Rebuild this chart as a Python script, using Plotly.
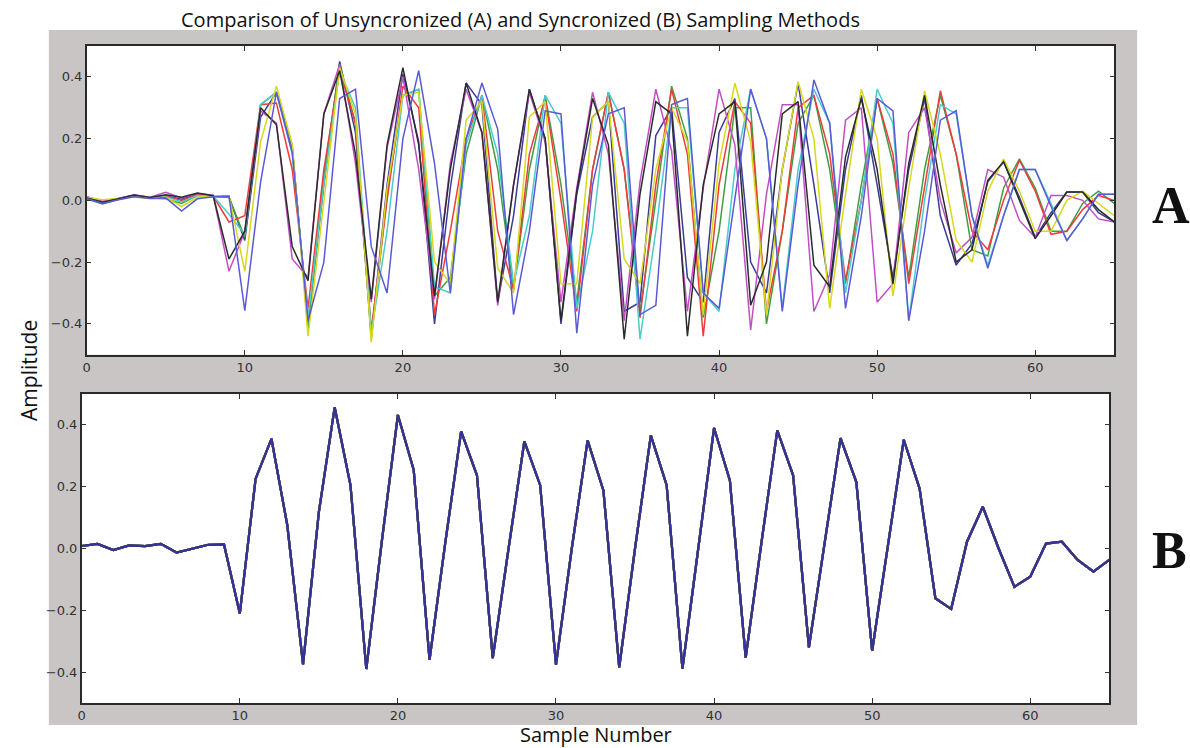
import plotly.graph_objects as go

# Sample index shared by every trace
samples = list(range(66))

# --- Panel A: unsynchronized captures (one list per capture) ---
a_navy = [0.006, -0.008, 0.004, 0.015, 0.008, 0.014, 0.004, 0.021, 0.014,
          0.01, -0.13, 0.27,
          0.35, 0.17, -0.40, 0.05, 0.45, 0.22, -0.44, 0.05, 0.41, 0.19, -0.40, 0.04,
          0.38, 0.31, -0.33, -0.05, 0.36, 0.20, -0.40, 0.02, 0.27, 0.32, -0.36, -0.33,
          0.21, 0.30, -0.25, -0.33, 0.22, 0.33, -0.20, -0.30, 0.10, 0.38, 0.05, -0.30,
          0.10, 0.34, 0.05, -0.25, 0.10, 0.33,
          -0.05, -0.21, -0.14, 0.06, 0.125, 0.01, -0.12, -0.04, 0.027, 0.027, -0.04, -0.07]

a_green = [0.004, -0.012, 0.003, 0.014, 0.007, 0.005, -0.010, 0.016, 0.012,
           0.01, -0.12, 0.31,
           0.35, 0.18, -0.42, 0.08, 0.44, 0.25, -0.45, 0.02, 0.34, 0.36, -0.31, -0.25,
           0.15, 0.34, 0.10, -0.29, 0.10, 0.34, 0.05, -0.33, 0.10, 0.35, 0.10, -0.36,
           0.00, 0.37, 0.20, -0.38, -0.10, 0.30, 0.30, -0.40, -0.10, 0.25, 0.34, 0.10,
           -0.27, 0.05, 0.33, 0.12, -0.25, 0.10,
           0.34, 0.15, -0.16, -0.18, 0.04, 0.134, 0.04, -0.10, -0.10, -0.01, 0.03, -0.01]

a_red = [0.012, -0.004, 0.006, 0.016, 0.008, 0.014, 0.000, 0.018, 0.014,
         -0.07, -0.05, 0.31,
         0.315, 0.10, -0.35, 0.10, 0.42, 0.25, -0.42, 0.00, 0.37, 0.30, -0.37, -0.10,
         0.20, 0.34, -0.10, -0.29, 0.15, 0.33, 0.00, -0.36, 0.10, 0.35, 0.10, -0.38,
         0.05, 0.36, 0.15, -0.44, 0.05, 0.32, 0.25, -0.36, -0.10, 0.30, 0.34, 0.15,
         -0.26, 0.00, 0.33, 0.15, -0.27, 0.05,
         0.355, 0.15, -0.10, -0.16, 0.0, 0.13, 0.03, -0.11, -0.10, -0.03, 0.016, 0.0]

a_cyan = [0.008, -0.006, 0.004, 0.015, 0.007, 0.012, -0.005, 0.016, 0.014,
          -0.045, -0.11, 0.31,
          0.35, 0.15, -0.38, 0.05, 0.42, 0.30, -0.43, -0.10, 0.34, 0.36, -0.28, -0.30,
          0.18, 0.34, 0.15, -0.27, -0.05, 0.34, 0.25, -0.35, -0.10, 0.35, 0.25, -0.45,
          -0.10, 0.30, 0.30, -0.30, -0.36, 0.10, 0.36, 0.20, -0.35, 0.10, 0.36, 0.25,
          -0.30, 0.00, 0.36, 0.25, -0.39, 0.00,
          0.31, 0.28, -0.05, -0.21, -0.05, 0.10, 0.10, -0.01, -0.13, -0.06, 0.02, 0.02]

a_magenta = [0.012, -0.004, 0.006, 0.018, 0.010, 0.026, 0.008, 0.022, 0.017,
             -0.23, -0.10, 0.29,
             0.25, -0.19, -0.25, 0.28, 0.44, 0.12, -0.33, 0.17, 0.40, 0.10, -0.32, 0.12,
             0.36, 0.22, -0.34, 0.05, 0.35, 0.19, -0.33, 0.04, 0.35, 0.15, -0.39, 0.06,
             0.36, 0.16, -0.36, 0.04, 0.36, 0.18, -0.42, 0.02, 0.31, 0.31, -0.36, -0.24,
             0.26, 0.30, -0.33, -0.27, 0.22, 0.30,
             0.00, -0.17, -0.12, 0.10, 0.075, -0.065, -0.12, 0.016, 0.016, 0.0, -0.06, -0.07]

a_yellow = [0.010, 0.002, 0.006, 0.012, 0.006, 0.010, -0.020, 0.010, 0.015,
            0.015, -0.23, 0.19,
            0.37, 0.18, -0.44, 0.00, 0.43, 0.28, -0.46, 0.04, 0.34, 0.35, -0.20, -0.27,
            0.26, 0.32, -0.22, -0.30, 0.27, 0.32, -0.27, -0.27, 0.27, 0.32, -0.19, -0.27,
            0.10, 0.30, 0.19, -0.37, 0.12, 0.38, 0.19, -0.37, 0.10, 0.385, 0.20, -0.35,
            0.02, 0.36, 0.20, -0.31, 0.04, 0.355,
            0.15, -0.13, -0.20, 0.03, 0.134, 0.03, -0.10, -0.10, 0.0, 0.03, -0.01, -0.05]

a_black = [0.008, -0.006, 0.005, 0.017, 0.009, 0.018, 0.010, 0.024, 0.015,
           -0.19, -0.10, 0.30,
           0.245, -0.15, -0.26, 0.28, 0.42, 0.15, -0.32, 0.18, 0.43, 0.18, -0.31, 0.10,
           0.38, 0.22, -0.33, 0.05, 0.36, 0.20, -0.39, 0.03, 0.33, 0.18, -0.45, 0.02,
           0.32, 0.28, -0.44, 0.05, 0.28, 0.32, -0.34, -0.20, 0.28, 0.32, -0.21, -0.28,
           0.14, 0.33, 0.10, -0.27, 0.12, 0.34,
           0.05, -0.20, -0.16, 0.065, 0.125, 0.0, -0.124, -0.05, 0.027, 0.027, -0.03, -0.07]

a_blue = [0.006, -0.010, 0.002, 0.012, 0.006, 0.008, -0.035, 0.005, 0.012,
          0.014, -0.357, 0.06,
          0.35, 0.155, -0.39, -0.20, 0.33, 0.36, -0.15, -0.30, 0.20, 0.42, 0.12, -0.30,
          0.20, 0.38, 0.23, -0.37, -0.10, 0.29, 0.28, -0.43, 0.05, 0.28, 0.30, -0.37,
          -0.34, 0.31, 0.33, -0.30, -0.35, 0.00, 0.36, 0.20, -0.36, 0.05, 0.39, 0.25,
          -0.35, -0.05, 0.33, 0.29, -0.39, -0.10,
          0.26, 0.29, -0.05, -0.22, -0.05, 0.10, 0.10, -0.02, -0.13, -0.06, 0.02, 0.02]

# --- Panel B: synchronized captures (all captures coincide) ---
b_synced = [0.008, 0.015, -0.005, 0.010, 0.008, 0.015, -0.013, 0.0, 0.012, 0.013,
            -0.21, 0.226, 0.355, 0.076, -0.375, 0.118, 0.457, 0.205, -0.39, 0.03,
            0.432, 0.254, -0.36, 0.02, 0.379, 0.237, -0.355, 0.0, 0.347, 0.205,
            -0.376, 0.0, 0.35, 0.188, -0.385, 0.0, 0.366, 0.205, -0.389, 0.0,
            0.39, 0.22, -0.353, 0.02, 0.382, 0.237, -0.32, 0.02, 0.357, 0.215,
            -0.331, 0.01, 0.352, 0.194, -0.161, -0.196, 0.022, 0.135, 0.0, -0.124,
            -0.091, 0.016, 0.022, -0.037, -0.075, -0.037]

series_a = [
    (a_navy, "#3b3b9a"),
    (a_green, "#3f9f3f"),
    (a_red, "#ef3b3b"),
    (a_cyan, "#48cccc"),
    (a_magenta, "#c24ec6"),
    (a_yellow, "#d8d81c"),
    (a_black, "#2b2b2b"),
    (a_blue, "#5a5ad6"),
]
series_b_colors = ["#5a5ad6", "#3f9f3f", "#ef3b3b", "#48cccc",
                   "#c24ec6", "#d8d81c", "#2b2b2b", "#33339a"]

W, H = 1190, 748

fig = go.Figure()
for vals, col in series_a:
    fig.add_trace(go.Scatter(x=samples, y=vals, mode="lines", xaxis="x", yaxis="y",
                             line=dict(color=col, width=1.5), showlegend=False,
                             hoverinfo="skip"))
for col in series_b_colors:
    fig.add_trace(go.Scatter(x=samples, y=b_synced, mode="lines", xaxis="x2", yaxis="y2",
                             line=dict(color=col, width=2.2), showlegend=False,
                             hoverinfo="skip"))

tick_font = dict(family="DejaVu Sans", size=13, color="#333333")
common_x = dict(range=[0, 65], tickvals=[0, 10, 20, 30, 40, 50, 60], ticks="inside",
                ticklen=5, tickcolor="#333333", showline=True, linecolor="#2a2a2a",
                linewidth=1.5, mirror="ticks", showgrid=False, zeroline=False,
                tickfont=tick_font)
common_y = dict(range=[-0.5, 0.5], tickvals=[-0.4, -0.2, 0.0, 0.2, 0.4], tickformat=".1f",
                ticks="inside", ticklen=5, tickcolor="#333333", showline=True,
                linecolor="#2a2a2a", linewidth=1.5, mirror="ticks", showgrid=False,
                zeroline=False, tickfont=tick_font)

fig.update_layout(
    width=W, height=H,
    margin=dict(l=0, r=0, t=0, b=0),
    paper_bgcolor="white",
    plot_bgcolor="white",
    xaxis=dict(domain=[83 / W, 1114 / W], anchor="y", **common_x),
    yaxis=dict(domain=[1 - 354.7 / H, 1 - 46 / H], anchor="x", **common_y),
    xaxis2=dict(domain=[78 / W, 1109 / W], anchor="y2", **common_x),
    yaxis2=dict(domain=[1 - 703 / H, 1 - 394 / H], anchor="x2", **common_y),
    shapes=[
        dict(type="rect", xref="paper", yref="paper", x0=45 / W, x1=1137 / W,
             y0=1 - 725 / H, y1=1 - 30 / H, fillcolor="#c9c5c4", line=dict(width=0),
             layer="below"),
        dict(type="rect", xref="x domain", yref="y domain", x0=0, x1=1, y0=0, y1=1,
             fillcolor="white", line=dict(width=0), layer="below"),
        dict(type="rect", xref="x2 domain", yref="y2 domain", x0=0, x1=1, y0=0, y1=1,
             fillcolor="white", line=dict(width=0), layer="below"),
    ],
    annotations=[
        dict(text="Comparison of Unsyncronized (A) and Syncronized (B) Sampling Methods",
             x=518 / W, y=1 - 20 / H, xref="paper", yref="paper", showarrow=False,
             xanchor="center", yanchor="middle",
             font=dict(family="Open Sans", size=20, color="#111111")),
        dict(text="Amplitude", x=25 / W, y=1 - 370 / H, xref="paper", yref="paper",
             showarrow=False, textangle=-90, xanchor="center", yanchor="middle",
             font=dict(family="Open Sans", size=21, color="#111111")),
        dict(text="Sample Number", x=594 / W, y=1 - 734 / H, xref="paper", yref="paper",
             showarrow=False, xanchor="center", yanchor="middle",
             font=dict(family="Open Sans", size=20, color="#111111")),
        dict(text="<b>A</b>", x=1171 / W, y=1 - 205 / H, xref="paper", yref="paper",
             showarrow=False, xanchor="center", yanchor="middle",
             font=dict(family="Liberation Serif", size=52, color="#111111")),
        dict(text="<b>B</b>", x=1169 / W, y=1 - 550 / H, xref="paper", yref="paper",
             showarrow=False, xanchor="center", yanchor="middle",
             font=dict(family="Liberation Serif", size=52, color="#111111")),
    ],
)

fig.write_html("out.html")
